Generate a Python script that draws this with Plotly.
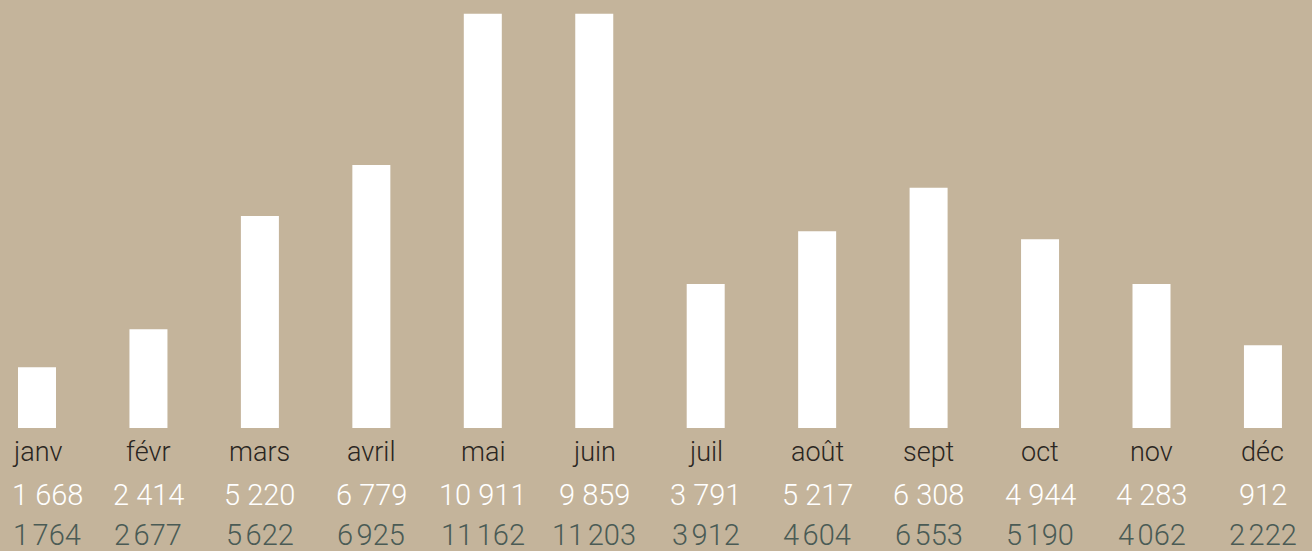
import plotly.graph_objects as go

months = ["janv", "févr", "mars", "avril", "mai", "juin", "juil", "août", "sept", "oct", "nov", "déc"]
bar_values = [1600, 2600, 5580, 6920, 10900, 10900, 3790, 5180, 6320, 4970, 3790, 2180]
row1 = ["1 668", "2 414", "5 220", "6 779", "10 911", "9 859", "3 791", "5 217", "6 308", "4 944", "4 283", "912"]
row2 = ["1\u202f764", "2\u202f677", "5\u202f622", "6\u202f925", "11\u202f162", "11\u202f203", "3\u202f912", "4\u202f604", "6\u202f553", "5\u202f190", "4\u202f062", "2\u202f222"]

BG = "#C4B49B"
PLOT_H = 428

fig = go.Figure()
fig.add_trace(go.Bar(
    x=list(range(len(months))), y=bar_values,
    marker=dict(color="white", line=dict(width=0)),
    width=0.341, hoverinfo="skip",
))

def py(px_below):
    return -px_below / PLOT_H

ann = []
for i, m in enumerate(months):
    xs = 10 if i == 0 else 0
    ann.append(dict(x=i, y=py(24), xref="x", yref="paper", text=m, showarrow=False,
                    yanchor="middle", xanchor="center",
                    font=dict(family="Roboto", size=27, color="#2a2622", weight=300)))
    ann.append(dict(x=i, y=py(67), xref="x", yref="paper", text=row1[i], showarrow=False,
                    yanchor="middle", xanchor="center", xshift=xs,
                    font=dict(family="Roboto", size=29, color="white", weight=300)))
    ann.append(dict(x=i, y=py(107), xref="x", yref="paper", text=row2[i], showarrow=False,
                    yanchor="middle", xanchor="center", xshift=xs,
                    font=dict(family="Roboto", size=29, color="#4a5b55", weight=300)))

step = 111.45
fig.update_layout(
    width=1312, height=551,
    paper_bgcolor=BG, plot_bgcolor=BG,
    margin=dict(l=0, r=0, t=0, b=551 - PLOT_H, pad=0),
    showlegend=False,
    xaxis=dict(range=[-37 / step, (1312 - 37) / step], visible=False, fixedrange=True),
    yaxis=dict(range=[0, PLOT_H / 0.038], visible=False, fixedrange=True),
    annotations=ann,
)
fig.write_html("out.html", config={"displayModeBar": False},
               post_script="document.body.style.margin='0';document.body.style.overflow='hidden';document.body.style.background='" + BG + "';")
